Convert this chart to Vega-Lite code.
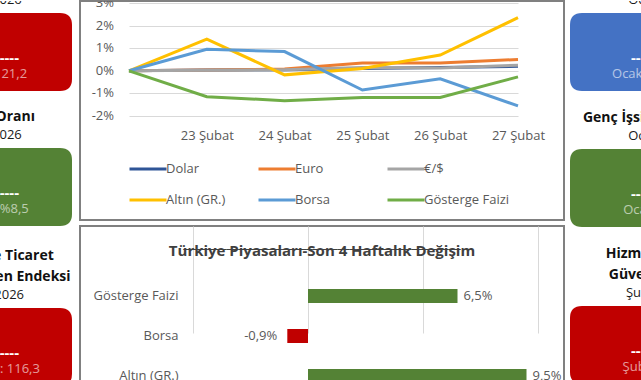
{
  "$schema": "https://vega.github.io/schema/vega-lite/v6.json",
  "background": "white",
  "padding": 0,
  "spacing": 0,
  "resolve": {"scale": {"color": "independent"}, "legend": {"color": "independent"}},
  "config": {
    "font": "Open Sans",
    "view": {"stroke": null},
    "locale": {"number": {"decimal": ",", "thousands": ".", "grouping": [3], "currency": ["", " TL"], "minus": "-", "percent": "%"}}
  },
  "datasets": {
    "seriler": [
      {"tarih": "20 Şubat", "seri": "Dolar", "deger": 0},
      {"tarih": "23 Şubat", "seri": "Dolar", "deger": 0.0003},
      {"tarih": "24 Şubat", "seri": "Dolar", "deger": 0.0005},
      {"tarih": "25 Şubat", "seri": "Dolar", "deger": 0.001},
      {"tarih": "26 Şubat", "seri": "Dolar", "deger": 0.0015},
      {"tarih": "27 Şubat", "seri": "Dolar", "deger": 0.002},
      {"tarih": "20 Şubat", "seri": "Euro", "deger": 0},
      {"tarih": "23 Şubat", "seri": "Euro", "deger": 0.0003},
      {"tarih": "24 Şubat", "seri": "Euro", "deger": 0.0008},
      {"tarih": "25 Şubat", "seri": "Euro", "deger": 0.0035},
      {"tarih": "26 Şubat", "seri": "Euro", "deger": 0.0035},
      {"tarih": "27 Şubat", "seri": "Euro", "deger": 0.005},
      {"tarih": "20 Şubat", "seri": "€/$", "deger": 0},
      {"tarih": "23 Şubat", "seri": "€/$", "deger": 0.0002},
      {"tarih": "24 Şubat", "seri": "€/$", "deger": 0.0005},
      {"tarih": "25 Şubat", "seri": "€/$", "deger": 0.0015},
      {"tarih": "26 Şubat", "seri": "€/$", "deger": 0.0012},
      {"tarih": "27 Şubat", "seri": "€/$", "deger": 0.0025},
      {"tarih": "20 Şubat", "seri": "Altın (GR.)", "deger": 0},
      {"tarih": "23 Şubat", "seri": "Altın (GR.)", "deger": 0.014},
      {"tarih": "24 Şubat", "seri": "Altın (GR.)", "deger": -0.0018},
      {"tarih": "25 Şubat", "seri": "Altın (GR.)", "deger": 0.001},
      {"tarih": "26 Şubat", "seri": "Altın (GR.)", "deger": 0.007},
      {"tarih": "27 Şubat", "seri": "Altın (GR.)", "deger": 0.0235},
      {"tarih": "20 Şubat", "seri": "Borsa", "deger": 0},
      {"tarih": "23 Şubat", "seri": "Borsa", "deger": 0.0095},
      {"tarih": "24 Şubat", "seri": "Borsa", "deger": 0.0085},
      {"tarih": "25 Şubat", "seri": "Borsa", "deger": -0.0085},
      {"tarih": "26 Şubat", "seri": "Borsa", "deger": -0.0035},
      {"tarih": "27 Şubat", "seri": "Borsa", "deger": -0.0155},
      {"tarih": "20 Şubat", "seri": "Gösterge Faizi", "deger": 0},
      {"tarih": "23 Şubat", "seri": "Gösterge Faizi", "deger": -0.0115},
      {"tarih": "24 Şubat", "seri": "Gösterge Faizi", "deger": -0.0132},
      {"tarih": "25 Şubat", "seri": "Gösterge Faizi", "deger": -0.0118},
      {"tarih": "26 Şubat", "seri": "Gösterge Faizi", "deger": -0.0118},
      {"tarih": "27 Şubat", "seri": "Gösterge Faizi", "deger": -0.0027}
    ],
    "eksen": [
      {"v": -0.02}, {"v": -0.01}, {"v": 0}, {"v": 0.01}, {"v": 0.02}, {"v": 0.03}
    ],
    "degisim": [
      {"kalem": "Gösterge Faizi", "degisim": 0.065},
      {"kalem": "Borsa", "degisim": -0.009},
      {"kalem": "Altın (GR.)", "degisim": 0.095}
    ],
    "sol": [
      {"taraf": "sol", "sira": 1, "ust": "", "baslik": "Atıl İşgücü Oranı", "donem": "Ocak 2026", "onceki": "Önceki: 21,2", "durum": "kötü"},
      {"taraf": "sol", "sira": 2, "ust": "", "baslik": "İşsizlik Oranı", "donem": "Ocak 2026", "onceki": "Önceki: %8,5", "durum": "iyi"},
      {"taraf": "sol", "sira": 3, "ust": "Perakende Ticaret", "baslik": "Sektörü Güven Endeksi", "donem": "Şubat 2026", "onceki": "Önceki Ay: 116,3", "durum": "kötü"}
    ],
    "sag": [
      {"taraf": "sag", "sira": 1, "ust": "", "baslik": "Kapasite Kullanım Oranı", "donem": "Ocak 2026", "onceki": "Ocak 2025: 74,9", "durum": "nötr"},
      {"taraf": "sag", "sira": 2, "ust": "", "baslik": "Genç İşsizlik Oranı (%)", "donem": "Ocak 2026", "onceki": "Ocak: %15,9", "durum": "iyi"},
      {"taraf": "sag", "sira": 3, "ust": "Hizmet Sektörü", "baslik": "Güven Endeksi", "donem": "Şubat 2026", "onceki": "Şubat: 109,4", "durum": "kötü"}
    ]
  },
  "hconcat": [
    {
      "width": 79,
      "height": 380,
      "data": {"name": "sol"},
      "encoding": {
        "x": {"field": "taraf", "type": "nominal", "scale": {"range": [-92, 72], "paddingInner": 0, "paddingOuter": 0}, "axis": null},
        "y": {"field": "sira", "type": "quantitative", "scale": {"domain": [1, 2, 3], "range": [51, 186, 346], "nice": false, "zero": false}, "axis": null}
      },
      "layer": [
        {
          "mark": {"type": "point", "clip": true, "filled": true, "opacity": 1, "strokeWidth": 0, "size": 26896,
            "shape": "M-0.8537,-0.4756L0.8537,-0.4756Q1,-0.4756,1,-0.3293L1,0.3293Q1,0.4756,0.8537,0.4756L-0.8537,0.4756Q-1,0.4756,-1,0.3293L-1,-0.3293Q-1,-0.4756,-0.8537,-0.4756Z"},
          "encoding": {"color": {"field": "durum", "type": "nominal", "scale": {"domain": ["kötü", "iyi", "nötr"], "range": ["#C00000", "#548235", "#4472C4"]}, "legend": null}}
        },
        {"mark": {"type": "text", "clip": true, "dy": 6, "fontSize": 15, "fontWeight": "bold", "color": "white", "baseline": "middle"}, "encoding": {"text": {"value": "------------"}}},
        {"mark": {"type": "text", "clip": true, "dy": 22, "fontSize": 13, "color": "white", "opacity": 0.6, "baseline": "middle"}, "encoding": {"text": {"field": "onceki"}}},
        {"mark": {"type": "text", "clip": true, "dy": -52, "fontSize": 13, "color": "#1a1a1a", "baseline": "middle"}, "encoding": {"text": {"field": "donem"}}},
        {"mark": {"type": "text", "clip": true, "dy": -70, "fontSize": 14, "fontWeight": "bold", "color": "#111111", "baseline": "middle"}, "encoding": {"text": {"field": "baslik"}}},
        {"mark": {"type": "text", "clip": true, "dy": -91, "fontSize": 14, "fontWeight": "bold", "color": "#111111", "baseline": "middle"}, "encoding": {"text": {"field": "ust"}}}
      ]
    },
    {
      "spacing": 4,
      "vconcat": [
        {
          "width": 484,
          "height": 219,
          "view": {"stroke": "#808080", "strokeWidth": 2},
          "encoding": {
            "x": {"field": "tarih", "type": "ordinal", "sort": null,
              "scale": {"type": "point", "domain": ["20 Şubat", "23 Şubat", "24 Şubat", "25 Şubat", "26 Şubat", "27 Şubat"], "range": [49, 438], "padding": 0},
              "axis": {"title": null, "orient": "bottom", "offset": -91, "domain": false, "ticks": false, "grid": false, "labelPadding": 0, "labelBaseline": "top", "labelAngle": 0, "labelFontSize": 13, "labelColor": "#595959", "labelExpr": "datum.value == '20 Şubat' ? '' : datum.label"}}
          },
          "layer": [
            {
              "data": {"name": "eksen"},
              "mark": {"type": "text", "clip": true, "align": "right", "baseline": "middle", "dx": -15, "fontSize": 13, "color": "#595959"},
              "encoding": {
                "x": {"datum": "20 Şubat", "type": "ordinal"},
                "y": {"field": "v", "type": "quantitative", "scale": {"domain": [-0.02, 0.03], "range": [115, 2], "nice": false, "zero": false},
                  "axis": {"title": null, "values": [-0.02, -0.01, 0, 0.01, 0.02, 0.03], "labels": false, "domain": false, "ticks": false, "grid": true, "gridColor": "#D9D9D9", "gridWidth": 1}},
                "text": {"field": "v", "type": "quantitative", "format": ".0%"}
              }
            },
            {
              "data": {"name": "seriler"},
              "mark": {"type": "line", "strokeWidth": 3},
              "encoding": {
                "y": {"field": "deger", "type": "quantitative"},
                "color": {"field": "seri", "type": "nominal", "sort": null,
                  "scale": {"domain": ["Dolar", "Euro", "€/$", "Altın (GR.)", "Borsa", "Gösterge Faizi"], "range": ["#2F5597", "#ED7D31", "#A5A5A5", "#FFC000", "#5B9BD5", "#70AD47"]},
                  "legend": {"title": null, "orient": "none", "legendX": 48, "legendY": 148, "direction": "horizontal", "columns": 3, "symbolType": "stroke", "symbolSize": 1369, "symbolStrokeWidth": 3, "labelFontSize": 13, "labelColor": "#595959", "labelOffset": -2, "columnPadding": 0, "rowPadding": 4, "gridAlign": "all", "symbolLimit": 0}}
              }
            }
          ]
        },
        {
          "width": 484,
          "height": 157,
          "view": {"stroke": "#808080", "strokeWidth": 2},
          "title": {"text": "Türkiye Piyasaları-Son 4 Haftalık Değişim", "subtitle": "_____________________________________________", "frame": "group", "anchor": "middle", "orient": "top", "offset": -45, "dy": 3, "baseline": "middle", "fontSize": 15, "fontWeight": "bold", "color": "#404040", "subtitleFontSize": 15, "subtitleFontWeight": "bold", "subtitleColor": "#404040", "subtitlePadding": -23},
          "data": {"name": "degisim"},
          "encoding": {
            "y": {"field": "kalem", "type": "nominal", "sort": null,
              "scale": {"domain": ["Gösterge Faizi", "Borsa", "Altın (GR.)"], "range": [50, 157], "paddingInner": 0.65, "paddingOuter": 0.1625, "align": 1},
              "axis": {"title": null, "offset": -98, "domain": false, "ticks": false, "grid": false, "labelPadding": 0, "labelFontSize": 13, "labelColor": "#595959"}},
            "x": {"field": "degisim", "type": "quantitative",
              "scale": {"domain": [-0.05, 0.1], "range": [113, 458], "nice": false, "zero": false},
              "axis": {"title": null, "values": [-0.05, 0, 0.05, 0.1], "labels": false, "ticks": false, "domain": false, "grid": true, "gridColor": "#D9D9D9", "gridWidth": 1}}
          },
          "layer": [
            {"mark": {"type": "bar"}, "encoding": {"color": {"condition": {"test": "datum.degisim < 0", "value": "#C00000"}, "value": "#548235"}}},
            {"transform": [{"filter": "datum.degisim >= 0"}], "mark": {"type": "text", "align": "left", "dx": 6, "baseline": "middle", "fontSize": 13, "color": "#595959"}, "encoding": {"text": {"field": "degisim", "type": "quantitative", "format": ".1%"}}},
            {"transform": [{"filter": "datum.degisim < 0"}], "mark": {"type": "text", "align": "right", "dx": -10, "baseline": "middle", "fontSize": 13, "color": "#595959"}, "encoding": {"text": {"field": "degisim", "type": "quantitative", "format": ".1%"}}}
          ]
        }
      ]
    },
    {
      "width": 78,
      "height": 380,
      "data": {"name": "sag"},
      "encoding": {
        "x": {"field": "taraf", "type": "nominal", "scale": {"range": [5, 185], "paddingInner": 0, "paddingOuter": 0}, "axis": null},
        "y": {"field": "sira", "type": "quantitative", "scale": {"domain": [1, 2, 3], "range": [51, 187, 344], "nice": false, "zero": false}, "axis": null}
      },
      "layer": [
        {
          "mark": {"type": "point", "clip": true, "filled": true, "opacity": 1, "strokeWidth": 0, "size": 32400,
            "shape": "M-0.8667,-0.4333L0.8667,-0.4333Q1,-0.4333,1,-0.3L1,0.3Q1,0.4333,0.8667,0.4333L-0.8667,0.4333Q-1,0.4333,-1,0.3L-1,-0.3Q-1,-0.4333,-0.8667,-0.4333Z"},
          "encoding": {"color": {"field": "durum", "type": "nominal", "scale": {"domain": ["kötü", "iyi", "nötr"], "range": ["#C00000", "#548235", "#4472C4"]}, "legend": null}}
        },
        {"mark": {"type": "text", "clip": true, "dy": 6, "fontSize": 15, "fontWeight": "bold", "color": "white", "baseline": "middle"}, "encoding": {"text": {"value": "------------"}}},
        {"mark": {"type": "text", "clip": true, "dy": 22, "fontSize": 13, "color": "white", "opacity": 0.6, "baseline": "middle"}, "encoding": {"text": {"field": "onceki"}}},
        {"mark": {"type": "text", "clip": true, "dy": -52, "fontSize": 13, "color": "#1a1a1a", "baseline": "middle"}, "encoding": {"text": {"field": "donem"}}},
        {"mark": {"type": "text", "clip": true, "dy": -70, "fontSize": 14, "fontWeight": "bold", "color": "#111111", "baseline": "middle"}, "encoding": {"text": {"field": "baslik"}}},
        {"mark": {"type": "text", "clip": true, "dy": -91, "fontSize": 14, "fontWeight": "bold", "color": "#111111", "baseline": "middle"}, "encoding": {"text": {"field": "ust"}}}
      ]
    }
  ]
}
